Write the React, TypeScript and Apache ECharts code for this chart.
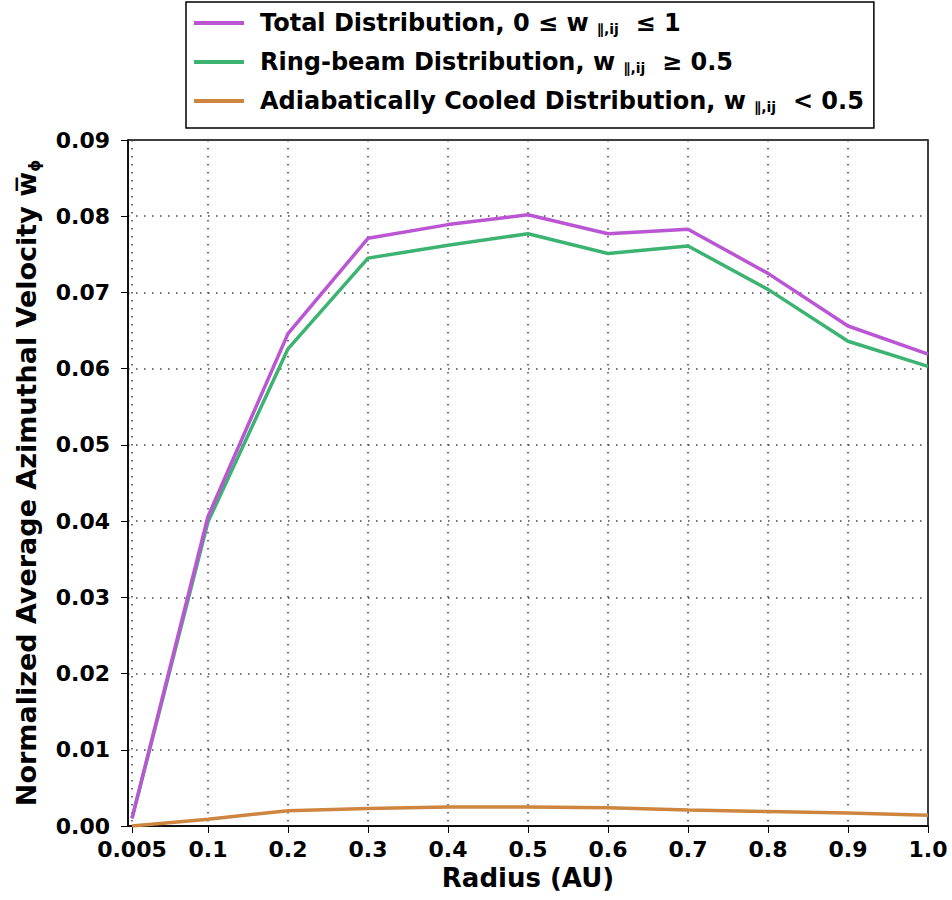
import React, { useEffect, useRef } from "react";
import * as echarts from "echarts";

const radius = [0.005, 0.1, 0.2, 0.3, 0.4, 0.5, 0.6, 0.7, 0.8, 0.9, 1.0];
const totalDist = [0.001, 0.0406, 0.0646, 0.0771, 0.0789, 0.0802, 0.0777, 0.0783, 0.0725, 0.0656, 0.0619];
const ringBeam = [0.001, 0.0399, 0.0626, 0.0745, 0.0762, 0.0777, 0.0751, 0.0761, 0.0704, 0.0636, 0.0603];
const cooled = [0.0, 0.0009, 0.002, 0.0023, 0.0025, 0.0025, 0.0024, 0.0021, 0.0019, 0.0017, 0.0014];
const xTicks = [0.005, 0.1, 0.2, 0.3, 0.4, 0.5, 0.6, 0.7, 0.8, 0.9, 1.0];
const xTickLabels = ["0.005", "0.1", "0.2", "0.3", "0.4", "0.5", "0.6", "0.7", "0.8", "0.9", "1.0"];
const seriesNames = ["Total Distribution", "Ring-beam Distribution", "Adiabatically Cooled Distribution"];
const legendLabels = [
  "Total Distribution, 0 \u2264 w {sub|\u2225,ij}  \u2264 1",
  "Ring-beam Distribution, w {sub|\u2225,ij}  \u2265 0.5",
  "Adiabatically Cooled Distribution, w {sub|\u2225,ij}  < 0.5",
];
const colors = ["#ba55d3", "#3cb371", "#cd853f"];

const FONT = "DejaVu Sans";

export default function App() {
  const ref = useRef<HTMLDivElement>(null);
  useEffect(() => {
    if (!ref.current) return;
    const chart = echarts.init(ref.current, null, { renderer: "svg" });
    const mk = (vals: number[]) => radius.map((r, i) => [r, vals[i]]);
    const datasets = [totalDist, ringBeam, cooled];
    chart.setOption({
      animation: false,
      backgroundColor: "#fff",
      grid: {
        left: 128,
        right: 24,
        top: 140,
        bottom: 74,
        show: true,
        borderColor: "#000",
        borderWidth: 1.5,
        backgroundColor: "transparent",
      },
      legend: {
        left: 186,
        top: 2,
        orient: "vertical",
        icon: "rect",
        itemWidth: 50,
        itemHeight: 4,
        itemGap: 13,
        padding: [8, 10, 14, 8],
        borderColor: "#000",
        borderWidth: 1.5,
        backgroundColor: "#fff",
        data: seriesNames,
        formatter: (name: string) => legendLabels[seriesNames.indexOf(name)],
        textStyle: {
          fontFamily: FONT,
          fontWeight: "bold",
          fontSize: 24,
          color: "#000",
          lineHeight: 26,
          padding: [0, 0, 0, 11],
          rich: {
            sub: {
              fontFamily: FONT,
              fontWeight: "bold",
              fontSize: 14,
              color: "#000",
              lineHeight: 16,
              verticalAlign: "bottom",
            },
          },
        },
      },
      xAxis: {
        type: "value",
        min: 0,
        max: 1,
        interval: 0.1,
        name: "Radius (AU)",
        nameLocation: "middle",
        nameGap: 39,
        nameTextStyle: { fontFamily: FONT, fontWeight: "bold", fontSize: 26, color: "#000" },
        axisLine: { onZero: false, lineStyle: { color: "#000", width: 1.5 } },
        axisTick: { show: true, length: 7, inside: false, customValues: xTicks, lineStyle: { color: "#000", width: 1 } },
        axisLabel: {
          customValues: xTicks,
          margin: 12,
          fontFamily: FONT,
          fontWeight: "bold",
          fontSize: 22,
          color: "#000",
          formatter: (v: number) => {
            const i = xTicks.findIndex((t) => Math.abs(t - v) < 1e-9);
            return i >= 0 ? xTickLabels[i] : "";
          },
        },
        splitLine: { show: true, lineStyle: { color: "#444", width: 1.5, type: [1.5, 6.5] } },
      },
      yAxis: {
        type: "value",
        min: 0,
        max: 0.09,
        interval: 0.01,
        name: "Normalized Average Azimuthal Velocity {ov|w\u0305}{phi|\u03d5}",
        nameLocation: "middle",
        nameGap: 86,
        nameRotate: 90,
        nameTextStyle: {
          fontFamily: FONT,
          fontWeight: "bold",
          fontSize: 27,
          color: "#000",
          lineHeight: 32,
          rich: {
            ov: { fontFamily: FONT, fontWeight: "bold", fontSize: 27, color: "#000", lineHeight: 32 },
            phi: { fontFamily: FONT, fontWeight: "bold", fontSize: 15, color: "#000", lineHeight: 22, verticalAlign: "bottom" },
          },
        },
        axisLine: { lineStyle: { color: "#000", width: 1.5 } },
        axisTick: { show: true, length: 7, inside: false, lineStyle: { color: "#000", width: 1 } },
        axisLabel: {
          margin: 18,
          fontFamily: FONT,
          fontWeight: "bold",
          fontSize: 22,
          color: "#000",
          formatter: (v: number) => v.toFixed(2),
        },
        splitLine: { show: true, lineStyle: { color: "#444", width: 1.5, type: [1.5, 6.5] } },
      },
      series: seriesNames.map((name, i) => ({
        name,
        type: "line",
        data: mk(datasets[i]),
        symbol: "none",
        lineStyle: { color: colors[i], width: 3.5 },
        itemStyle: { color: colors[i] },
        z: 3 - i,
      })),
    });
    return () => chart.dispose();
  }, []);
  return <div ref={ref} style={{ position: "absolute", left: 0, top: 0, width: 952, height: 900 }} />;
}
